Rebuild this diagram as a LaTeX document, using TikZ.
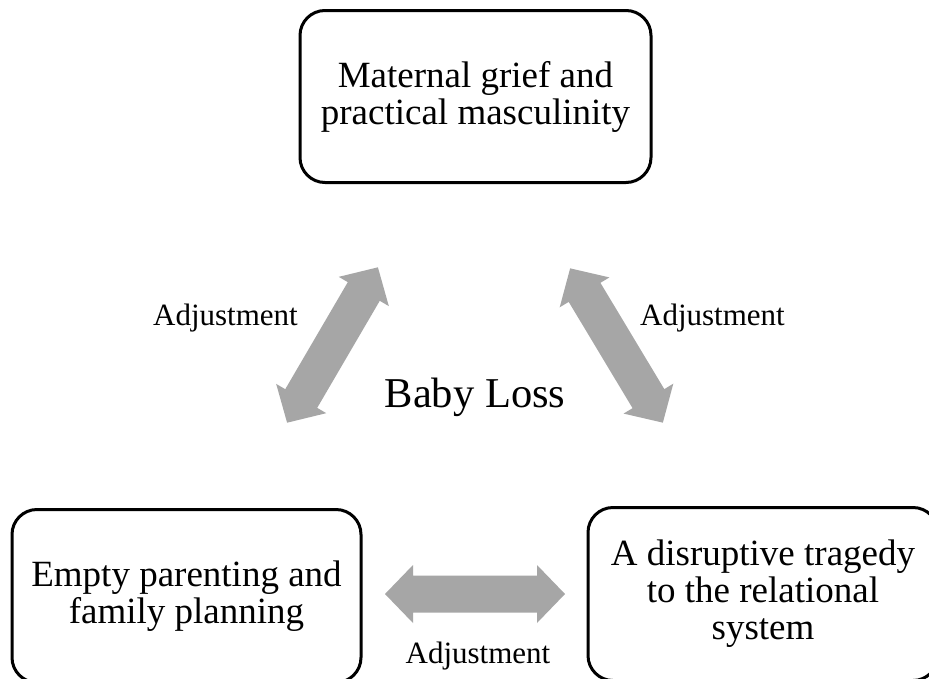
\documentclass[tikz,border=0pt]{standalone}
\usepackage{fontspec}
\setmainfont{Liberation Serif}
\definecolor{arrowgray}{RGB}{166,166,166}
\newcommand{\fatarrow}[3]{%
  \begin{scope}[shift={#1}, rotate=#2]
    \fill[arrowgray] (-90,0) -- (-62,29) -- (-62,18.5) -- (62,18.5) -- (62,29)
      -- (90,0) -- (62,-29) -- (62,-18.5) -- (-62,-18.5) -- (-62,-29) -- cycle;
    \coordinate (#3) at (0,0);
  \end{scope}}
\tikzset{
  themebox/.style={draw=black, line width=3pt, rounded corners=25pt, fill=white,
    align=center, inner sep=0pt, font=\fontsize{37}{37}\selectfont},
  adjlabel/.style={anchor=base, inner sep=0pt, font=\fontsize{31}{33}\selectfont},
  centrelabel/.style={anchor=base, inner sep=0pt, font=\fontsize{42.5}{45}\selectfont}
}
\begin{document}
\begin{tikzpicture}[x=1pt, y=-1pt]
  \useasboundingbox (0,0) rectangle (929,678);
  \clip (0,0) rectangle (929,678);
  \fill[white] (0,0) rectangle (929,678);

  \node[themebox, minimum width=351pt, minimum height=172pt] (top) at (475.5,96.5)
    {Maternal grief and\\practical masculinity};
  \node[themebox, minimum width=349pt, minimum height=173pt] (left) at (186.5,596)
    {Empty parenting and\\family planning};
  \node[themebox, minimum width=350pt, minimum height=173pt] (right) at (763,594)
    {A disruptive tragedy\\to the relational\\system};

  \fatarrow{(332.5,345)}{59.7}{a1}
  \fatarrow{(616.5,345.5)}{-59}{a2}
  \fatarrow{(475,594)}{0}{a3}

  \node[centrelabel] (loss) at (475,407) {Baby Loss};
  \node[adjlabel] (adjl) at (225.5,325) {Adjustment};
  \node[adjlabel] (adjr) at (712.5,325) {Adjustment};
  \node[adjlabel] (adjb) at (478,663) {Adjustment};
\end{tikzpicture}
\end{document}
